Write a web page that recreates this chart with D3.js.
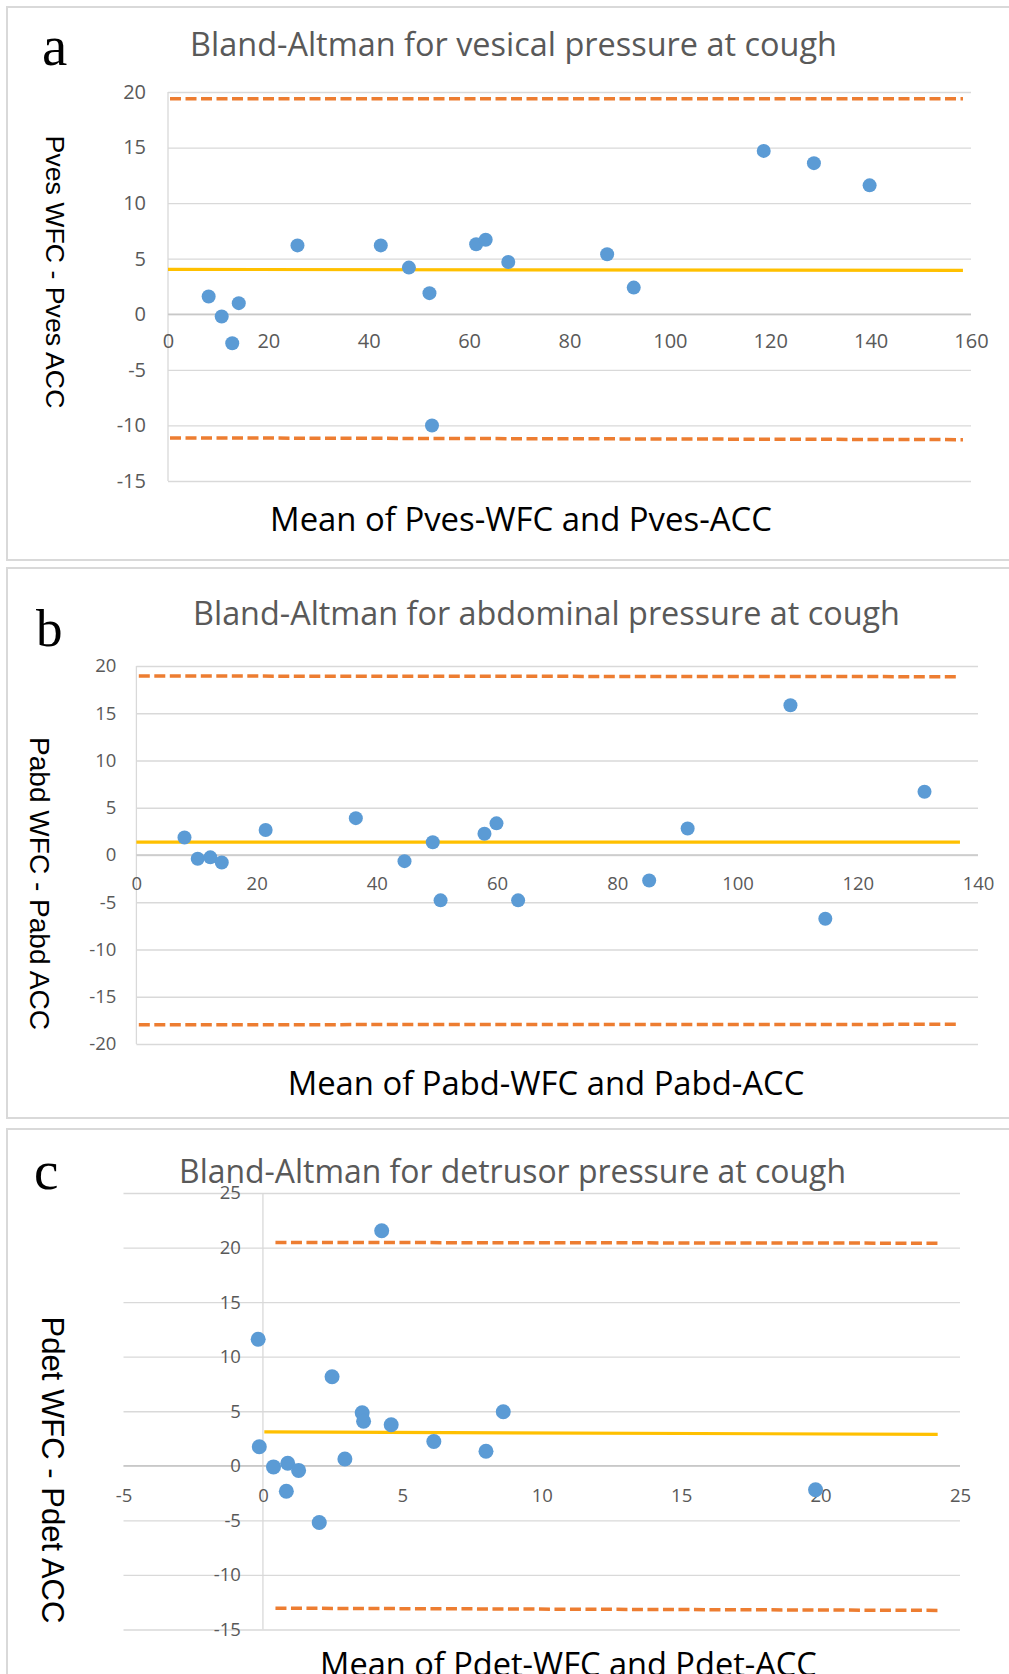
<!DOCTYPE html>
<html>
<head>
<meta charset="utf-8">
<script src="https://cdn.jsdelivr.net/npm/d3@7"></script>
<style>
body { margin: 0; background: #fff; }
svg { display: block; }
</style>
</head>
<body>
<div class="chart"></div>
<script>

// a - vesical pressure
var vesMean = [8.1, 10.7, 12.8, 14.1, 25.8, 42.4, 48.0, 52.1, 61.4, 63.3, 67.8, 87.5, 92.8, 52.6, 118.7, 128.7, 139.8];
var vesDiff = [1.6, -0.2, -2.6, 1.0, 6.2, 6.2, 4.2, 1.9, 6.3, 6.7, 4.7, 5.4, 2.4, -10.0, 14.7, 13.6, 11.6];
var vesBias = [4.04, 3.95];
var vesUpper = [19.4, 19.4];
var vesLower = [-11.12, -11.28];
var vesLineX = [0, 158.4];
var vesXTicks = [0, 20, 40, 60, 80, 100, 120, 140, 160];
var vesYTicks = [20, 15, 10, 5, 0, -5, -10, -15];

// b - abdominal pressure
var abdMean = [8.0, 10.2, 12.3, 14.2, 21.5, 36.5, 44.6, 49.3, 50.6, 57.9, 59.9, 63.5, 85.3, 91.7, 108.8, 114.6, 131.1];
var abdDiff = [1.85, -0.4, -0.25, -0.8, 2.65, 3.9, -0.65, 1.35, -4.8, 2.25, 3.35, -4.8, -2.7, 2.8, 15.85, -6.75, 6.7];
var abdBias = [1.36, 1.36];
var abdUpper = [18.94, 18.87];
var abdLower = [-17.96, -17.92];
var abdLineX = [0, 137];
var abdXTicks = [0, 20, 40, 60, 80, 100, 120, 140];
var abdYTicks = [20, 15, 10, 5, 0, -5, -10, -15, -20];

// c - detrusor pressure
var detMean = [-0.17, -0.13, 0.38, 0.89, 0.84, 1.28, 2.02, 2.48, 2.94, 3.56, 3.61, 4.6, 4.26, 6.13, 8.0, 8.62, 19.82];
var detDiff = [11.6, 1.75, -0.1, 0.23, -2.33, -0.42, -5.2, 8.16, 0.62, 4.86, 4.08, 3.76, 21.54, 2.23, 1.33, 4.96, -2.2];
var detBias = [3.11, 2.88];
var detUpper = [20.47, 20.4];
var detLower = [-13.05, -13.25];
var detLineX = [0.05, 24.2];
var detXTicks = [-5, 0, 5, 10, 15, 20, 25];
var detYTicks = [25, 20, 15, 10, 5, 0, -5, -10, -15];

var width = 1009, height = 1674;
var svg = d3.select('.chart').append('svg').attr('width', width).attr('height', height);

var panels = [
  { letter: 'a', title: 'Bland-Altman for vesical pressure at cough',
    xTitle: 'Mean of Pves-WFC and Pves-ACC', yTitle: 'Pves WFC - Pves ACC',
    xs: vesMean, ys: vesDiff, bias: vesBias, upper: vesUpper, lower: vesLower, lineX: vesLineX,
    xTicks: vesXTicks, yTicks: vesYTicks,
    box: [7, 560], px: [168, 971], py: [92, 481],
    titleAt: [513.5, 56, 647], letterAt: [42, 65, 57], yTitleAt: [55.5, 272, 273], xTitleAt: [521, 531, 502],
    tickFont: 20, yPad: 22, xOff: 27, r: 7 },
  { letter: 'b', title: 'Bland-Altman for abdominal pressure at cough',
    xTitle: 'Mean of Pabd-WFC and Pabd-ACC', yTitle: 'Pabd WFC - Pabd ACC',
    xs: abdMean, ys: abdDiff, bias: abdBias, upper: abdUpper, lower: abdLower, lineX: abdLineX,
    xTicks: abdXTicks, yTicks: abdYTicks,
    box: [568, 1118], px: [136.4, 978], py: [666, 1044],
    titleAt: [546.5, 625, 707], letterAt: [36, 646, 53], yTitleAt: [40, 883.5, 293], xTitleAt: [546, 1094.5, 517],
    tickFont: 18.5, yPad: 20, xOff: 28, r: 7 },
  { letter: 'c', title: 'Bland-Altman for detrusor pressure at cough',
    xTitle: 'Mean of Pdet-WFC and Pdet-ACC', yTitle: 'Pdet WFC - Pdet ACC',
    xs: detMean, ys: detDiff, bias: detBias, upper: detUpper, lower: detLower, lineX: detLineX,
    xTicks: detXTicks, yTicks: detYTicks,
    box: [1129, 1710], px: [123.5, 960], py: [1193, 1629.5],
    titleAt: [512.5, 1183, 667], letterAt: [34, 1189, 55], yTitleAt: [52.8, 1470, 307], xTitleAt: [568.5, 1676, 497],
    tickFont: 18.5, yPad: 22, xOff: 30, r: 7.5 }
];

// grow or shrink the font until the text is as wide as the picture's
function fitText(sel, target) {
  var size = parseFloat(sel.attr('font-size'));
  var w = sel.node().getComputedTextLength();
  sel.attr('font-size', size * target / w);
}

// plain hyphen for negatives, like the original
function plain(d) { return String(d); }

function drawPanel(p) {
  var g = svg.append('g');

  g.append('rect')
    .attr('x', 7).attr('y', p.box[0])
    .attr('width', 1040).attr('height', p.box[1] - p.box[0])
    .attr('fill', '#fff').attr('stroke', '#d9d9d9').attr('stroke-width', 2);

  var x = d3.scaleLinear().domain([p.xTicks[0], p.xTicks[p.xTicks.length - 1]]).range(p.px);
  var y = d3.scaleLinear().domain([p.yTicks[0], p.yTicks[p.yTicks.length - 1]]).range(p.py);
  var x0 = x(Math.max(0, p.xTicks[0]));
  var y0 = y(0);

  // gridlines
  g.append('g').attr('transform', 'translate(' + p.px[0] + ',0)')
    .call(d3.axisLeft(y).tickValues(p.yTicks).tickSize(-(p.px[1] - p.px[0])).tickFormat(''))
    .call(function(a) {
      a.select('.domain').remove();
      a.selectAll('line').attr('stroke', '#d9d9d9').attr('stroke-width', 1.3);
    });

  // vertical axis line
  g.append('line').attr('x1', x0).attr('x2', x0).attr('y1', p.py[0]).attr('y2', p.py[1])
    .attr('stroke', '#d9d9d9').attr('stroke-width', 1.3);
  // horizontal axis line at zero
  g.append('line').attr('x1', p.px[0]).attr('x2', p.px[1]).attr('y1', y0).attr('y2', y0)
    .attr('stroke', '#c8c8c8').attr('stroke-width', 1.5);

  // tick labels
  g.append('g').attr('transform', 'translate(' + x0 + ',0)')
    .call(d3.axisLeft(y).tickValues(p.yTicks).tickSize(0).tickPadding(p.yPad).tickFormat(plain))
    .call(function(a) {
      a.select('.domain').remove();
      a.selectAll('text').attr('font-family', 'Open Sans').attr('font-size', p.tickFont).attr('fill', '#595959');
    });
  g.append('g').attr('transform', 'translate(0,' + y0 + ')')
    .call(d3.axisBottom(x).tickValues(p.xTicks).tickSize(0).tickPadding(p.xOff - 0.35 * p.tickFont).tickFormat(plain))
    .call(function(a) {
      a.select('.domain').remove();
      a.selectAll('text').attr('font-family', 'Open Sans').attr('font-size', p.tickFont).attr('fill', '#595959');
    });

  // limits of agreement and bias
  var line = d3.line().x(function(d) { return x(d[0]); }).y(function(d) { return y(d[1]); });
  [p.upper, p.lower].forEach(function(v) {
    g.append('path')
      .attr('d', line([[p.lineX[0] + 0.4, v[0]], [p.lineX[1], v[1]]]))
      .attr('stroke', '#ED7D31').attr('stroke-width', 3.5).attr('stroke-dasharray', '11,4.5').attr('fill', 'none');
  });
  g.append('path')
    .attr('d', line([[p.lineX[0], p.bias[0]], [p.lineX[1], p.bias[1]]]))
    .attr('stroke', '#FFC000').attr('stroke-width', 3.2).attr('fill', 'none');

  // points
  g.selectAll('.dot').data(p.xs).enter().append('circle')
    .attr('class', 'dot')
    .attr('cx', function(d) { return x(d); })
    .attr('cy', function(d, i) { return y(p.ys[i]); })
    .attr('r', p.r)
    .attr('fill', '#5B9BD5');

  // texts
  var t = g.append('text').attr('x', p.titleAt[0]).attr('y', p.titleAt[1])
    .attr('text-anchor', 'middle').attr('font-family', 'Open Sans').attr('font-size', 27)
    .attr('fill', '#595959').text(p.title);
  fitText(t, p.titleAt[2]);

  g.append('text').attr('x', p.letterAt[0]).attr('y', p.letterAt[1])
    .attr('font-family', 'Liberation Serif').attr('font-size', p.letterAt[2])
    .attr('fill', '#000').text(p.letter);

  var yt = g.append('text')
    .attr('transform', 'translate(' + p.yTitleAt[0] + ',' + p.yTitleAt[1] + ') rotate(90)')
    .attr('text-anchor', 'middle').attr('dy', '0.35em')
    .attr('font-family', 'Liberation Sans').attr('font-size', 26)
    .attr('fill', '#000').text(p.yTitle);
  fitText(yt, p.yTitleAt[2]);

  var xt = g.append('text').attr('x', p.xTitleAt[0]).attr('y', p.xTitleAt[1])
    .attr('text-anchor', 'middle').attr('font-family', 'Open Sans').attr('font-size', 28)
    .attr('fill', '#000').text(p.xTitle);
  fitText(xt, p.xTitleAt[2]);
}

panels.forEach(drawPanel);

</script>
</body>
</html>
